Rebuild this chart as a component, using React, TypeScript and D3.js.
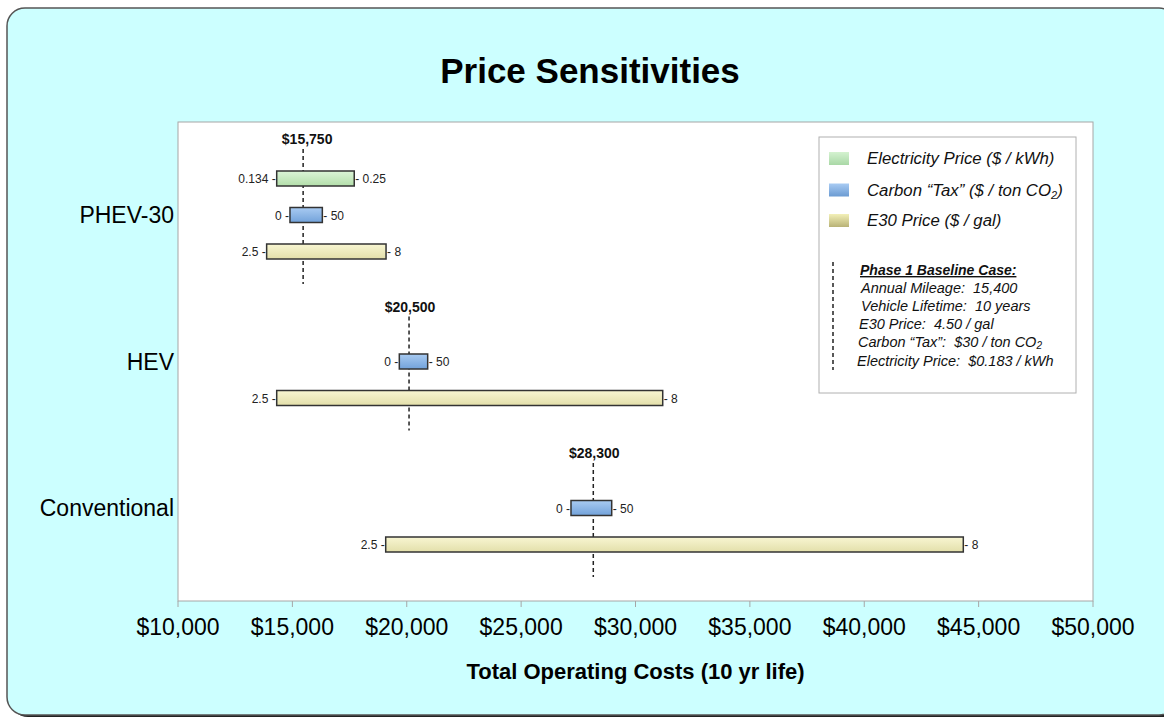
import React from "react";
import * as d3 from "d3";

// ---------- data ----------
const categories = ["PHEV-30", "HEV", "Conventional"];

// [low, high] cost range per category (null = not shown)
const electricityRange: ([number, number] | null)[] = [[14315, 17705], null, null];
const carbonRange: ([number, number] | null)[] = [[14895, 16310], [19675, 20915], [27180, 28960]];
const e30Range: ([number, number] | null)[] = [[13875, 19095], [14315, 31190], [19080, 44330]];

const electricityLabels = ["0.134", "0.25"];
const carbonLabels = ["0", "50"];
const e30Labels = ["2.5", "8"];

const baselineValues = [15470, 20100, 28155];
const baselineLabels = ["$15,750", "$20,500", "$28,300"];

const xTickValues = [10000, 15000, 20000, 25000, 30000, 35000, 40000, 45000, 50000];

const legendNames = ["Electricity Price ($ / kWh)", "Carbon \u201cTax\u201d ($ / ton CO", "E30 Price ($ / gal)"];
const baselineNotes = [
  "Annual Mileage:  15,400",
  "Vehicle Lifetime:  10 years",
  "E30 Price:  4.50 / gal",
  "Carbon \u201cTax\u201d:  $30 / ton CO",
  "Electricity Price:  $0.183 / kWh",
];

// ---------- layout ----------
const W = 1164;
const H = 717;
const plot = { left: 178, right: 1093, top: 122, bottom: 601 };
const FONT = "'Liberation Sans', Arial, Helvetica, sans-serif";
const BAR_H = 15;
const SERIES_GAP = 36.5;

export default function App() {
  const x = d3.scaleLinear().domain([10000, 50000]).range([plot.left, plot.right]);
  const y = d3.scalePoint<string>().domain(categories).range([215, 508]);
  const fmt = d3.format("$,.0f");

  const series = [
    { key: "elec", ranges: electricityRange, labels: electricityLabels, fill: "url(#gGreen)", offset: -SERIES_GAP },
    { key: "carbon", ranges: carbonRange, labels: carbonLabels, fill: "url(#gBlue)", offset: 0 },
    { key: "e30", ranges: e30Range, labels: e30Labels, fill: "url(#gYellow)", offset: SERIES_GAP },
  ];

  const legendFills = ["url(#lGreen)", "url(#lBlue)", "url(#lYellow)"];
  const legendY = [158.5, 190, 220.5];
  const noteY = [293, 311, 329, 347, 366];
  const noteX = [861, 861, 859, 858, 857];

  return (
    <svg
      width={W}
      height={H}
      viewBox={`0 0 ${W} ${H}`}
      style={{ position: "absolute", left: 0, top: 0, display: "block" }}
      fontFamily={FONT}
    >
      <defs>
        <linearGradient id="gGreen" x1="0" y1="0" x2="0" y2="1">
          <stop offset="0" stopColor="#dcf5d8" />
          <stop offset="1" stopColor="#b3deaa" />
        </linearGradient>
        <linearGradient id="gBlue" x1="0" y1="0" x2="0" y2="1">
          <stop offset="0" stopColor="#a9cbf2" />
          <stop offset="1" stopColor="#72a2da" />
        </linearGradient>
        <linearGradient id="gYellow" x1="0" y1="0" x2="0" y2="1">
          <stop offset="0" stopColor="#f8f6d2" />
          <stop offset="1" stopColor="#e3dfaa" />
        </linearGradient>
        <linearGradient id="lGreen" x1="0" y1="0" x2="0" y2="1">
          <stop offset="0" stopColor="#d4f2d0" />
          <stop offset="1" stopColor="#a9d8a6" />
        </linearGradient>
        <linearGradient id="lBlue" x1="0" y1="0" x2="0" y2="1">
          <stop offset="0" stopColor="#a8cbf3" />
          <stop offset="1" stopColor="#6b9bd2" />
        </linearGradient>
        <linearGradient id="lYellow" x1="0" y1="0" x2="0" y2="1">
          <stop offset="0" stopColor="#f3f0b8" />
          <stop offset="1" stopColor="#b8b276" />
        </linearGradient>
      </defs>

      {/* outer frame */}
      <rect x={10} y={11} width={1170} height={706} rx={18} fill="#222" />
      <rect x={7} y={8} width={1170} height={707} rx={18} fill="#ccffff" stroke="#555" strokeWidth={1.5} />

      {/* title */}
      <text x={590} y={83} textAnchor="middle" fontSize={35} fontWeight="bold" fill="#000">
        Price Sensitivities
      </text>

      {/* plot area */}
      <rect
        x={plot.left}
        y={plot.top}
        width={plot.right - plot.left}
        height={plot.bottom - plot.top}
        fill="#fff"
        stroke="#a6a6a6"
        strokeWidth={1}
      />

      {/* x axis ticks */}
      {xTickValues.map((t) => (
        <g key={t}>
          <line x1={x(t)} x2={x(t)} y1={plot.bottom} y2={plot.bottom + 6} stroke="#a6a6a6" strokeWidth={1} />
          <text x={x(t)} y={635} textAnchor="middle" fontSize={23} fill="#000">
            {fmt(t)}
          </text>
        </g>
      ))}
      <text x={(plot.left + plot.right) / 2} y={679} textAnchor="middle" fontSize={22} fontWeight="bold" fill="#000">
        Total Operating Costs (10 yr life)
      </text>

      {/* category labels */}
      {categories.map((c) => (
        <text key={c} x={174} y={(y(c) as number) + 8} textAnchor="end" fontSize={23} fill="#000">
          {c}
        </text>
      ))}

      {/* baseline dashed lines + labels */}
      {categories.map((c, i) => {
        const cy = y(c) as number;
        const hasElec = electricityRange[i] !== null;
        const labelY = cy - (hasElec ? 71 : 50);
        const bx = x(baselineValues[i]);
        return (
          <g key={"base" + c}>
            <line
              x1={bx}
              x2={bx}
              y1={labelY + 5}
              y2={cy + SERIES_GAP + BAR_H / 2 + 25}
              stroke="#222"
              strokeWidth={1.5}
              strokeDasharray="4,3"
            />
            <text x={bx + (hasElec ? 4 : 1)} y={labelY} textAnchor="middle" fontSize={14} fontWeight="bold" fill="#111">
              {baselineLabels[i]}
            </text>
          </g>
        );
      })}

      {/* bars */}
      {series.map((s) =>
        categories.map((c, i) => {
          const r = s.ranges[i];
          if (!r) return null;
          const cy = (y(c) as number) + s.offset;
          const x0 = x(r[0]);
          const x1 = x(r[1]);
          return (
            <g key={s.key + c}>
              <rect
                x={x0}
                y={cy - BAR_H / 2}
                width={x1 - x0}
                height={BAR_H}
                fill={s.fill}
                stroke="#333"
                strokeWidth={1.5}
              />
              <text x={x0 - 1} y={cy + 4.5} textAnchor="end" fontSize={12} fill="#222">
                {s.labels[0] + " -"}
              </text>
              <text x={x1 + 1} y={cy + 4.5} textAnchor="start" fontSize={12} fill="#222">
                {"- " + s.labels[1]}
              </text>
            </g>
          );
        })
      )}

      {/* legend */}
      <rect x={819} y={137} width={257} height={256} fill="#fff" stroke="#b0b0b0" strokeWidth={1} />
      {legendNames.map((n, i) => (
        <g key={n}>
          <rect x={829} y={legendY[i] - 6.5} width={20} height={13} fill={legendFills[i]} />
          <text x={867} y={legendY[i] + 5.5} fontSize={16.8} fontStyle="italic" fill="#111">
            {n}
            {i === 1 ? (
              <>
                <tspan fontSize={11} dy={3}>2</tspan>
                <tspan dy={-3}>)</tspan>
              </>
            ) : null}
          </text>
        </g>
      ))}
      <line x1={833} x2={833} y1={262} y2={370} stroke="#222" strokeWidth={1.5} strokeDasharray="4,3" />
      <text x={860} y={275} fontSize={14} fontStyle="italic" fontWeight="bold" textDecoration="underline" fill="#111">
        Phase 1 Baseline Case:
      </text>
      {baselineNotes.map((n, i) => (
        <text
          key={n}
          x={noteX[i]}
          y={noteY[i]}
          fontSize={14.5}
          fontStyle="italic"
          fill="#111"
          style={{ whiteSpace: "pre" }}
        >
          {n}
          {i === 3 ? <tspan fontSize={10} dy={2}>2</tspan> : null}
        </text>
      ))}
    </svg>
  );
}
